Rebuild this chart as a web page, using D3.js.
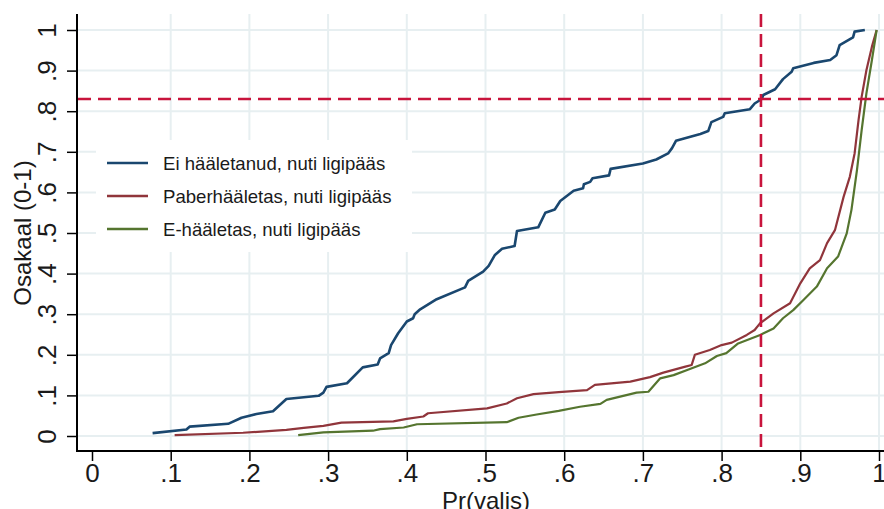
<!DOCTYPE html>
<html>
<head>
<meta charset="utf-8">
<script src="https://cdn.jsdelivr.net/npm/d3@7"></script>
<style>
  body { margin: 0; background: #fff; }
  svg { display: block; font-family: "Liberation Sans", Arial, sans-serif; }
</style>
</head>
<body>
<div class="chart"></div>
<script>
/* DATA: sorted predicted probabilities (x = Pr(valis), y = osakaal) */
var eiHaaletanud = [
  [.077,.007],[.120,.016],[.124,.023],[.173,.030],[.190,.045],[.209,.054],[.230,.061],
  [.247,.091],[.288,.099],[.294,.107],[.298,.121],[.324,.130],[.344,.169],[.363,.176],
  [.366,.191],[.377,.204],[.380,.224],[.389,.253],[.400,.282],[.408,.290],[.410,.300],
  [.417,.312],[.438,.337],[.474,.366],[.478,.382],[.497,.405],[.504,.419],[.512,.446],
  [.521,.461],[.537,.468],[.540,.505],[.567,.514],[.576,.550],[.588,.558],[.595,.579],
  [.612,.604],[.624,.610],[.625,.620],[.633,.626],[.636,.635],[.657,.642],[.659,.658],
  [.700,.671],[.717,.681],[.732,.696],[.737,.709],[.742,.727],[.773,.744],[.783,.751],
  [.787,.773],[.802,.786],[.804,.795],[.836,.805],[.842,.819],[.851,.830],[.853,.840],
  [.868,.854],[.878,.879],[.889,.897],[.891,.906],[.917,.919],[.938,.926],[.946,.938],
  [.950,.963],[.967,.982],[.969,.996],[.982,1.0]
];
var paberHaaletas = [
  [.105,.002],[.192,.008],[.247,.015],[.269,.020],[.294,.025],[.317,.033],[.383,.036],
  [.400,.042],[.421,.048],[.427,.056],[.502,.068],[.527,.080],[.540,.093],[.561,.103],
  [.593,.108],[.629,.113],[.639,.126],[.684,.134],[.709,.145],[.726,.156],[.754,.171],
  [.762,.175],[.766,.200],[.785,.212],[.800,.224],[.813,.230],[.832,.249],[.842,.261],
  [.849,.278],[.866,.302],[.887,.327],[.900,.376],[.912,.413],[.925,.433],[.934,.475],
  [.944,.507],[.955,.589],[.963,.639],[.969,.696],[.974,.778],[.978,.836],[.984,.901],
  [.991,.959],[.997,1.0]
];
var eHaaletas = [
  [.262,.002],[.294,.009],[.357,.013],[.366,.017],[.396,.021],[.413,.029],[.527,.034],
  [.542,.045],[.565,.053],[.593,.062],[.620,.072],[.646,.079],[.654,.089],[.692,.107],
  [.707,.109],[.722,.142],[.739,.150],[.758,.164],[.779,.179],[.794,.197],[.806,.204],
  [.821,.228],[.849,.249],[.866,.265],[.878,.290],[.891,.310],[.904,.335],[.921,.368],
  [.934,.413],[.948,.442],[.959,.499],[.965,.557],[.972,.655],[.978,.754],[.984,.844],
  [.991,.926],[.997,1.0]
];
var seriesNames = ["Ei hääletanud, nuti ligipääs", "Paberhääletas, nuti ligipääs", "E-hääletas, nuti ligipääs"];
var seriesColors = ["#1a476f", "#90353b", "#55752f"];
var tickValues = [0, .1, .2, .3, .4, .5, .6, .7, .8, .9, 1];
var refX = 0.85, refY = 0.83;

var W = 884, H = 509;
var svg = d3.select(".chart").append("svg")
    .attr("width", W).attr("height", H);

var x = d3.scaleLinear().domain([0, 1]).range([92, 879]);
var y = d3.scaleLinear().domain([0, 1]).range([436, 30]);
var axisLeftX = 77, axisBottomY = 451, plotTop = 14, plotRight = 884;

var fmt = function(d){ return d === 0 ? "0" : d === 1 ? "1" : String(d).replace("0.", "."); };

/*GRID*/
var grid = svg.append("g").attr("stroke", "#e7eff1").attr("stroke-width", 2);
grid.selectAll("line.h").data(tickValues).enter().append("line")
    .attr("x1", axisLeftX).attr("x2", plotRight)
    .attr("y1", function(d){ return y(d); }).attr("y2", function(d){ return y(d); });
grid.selectAll("line.v").data(tickValues.filter(function(d){ return d > 0; })).enter().append("line")
    .attr("y1", plotTop).attr("y2", axisBottomY)
    .attr("x1", function(d){ return x(d); }).attr("x2", function(d){ return x(d); });

/*LEGEND BOX (covers grid)*/
svg.append("rect").attr("x", 96).attr("y", 140).attr("width", 316).attr("height", 112).attr("fill", "#fff");

/*CURVES*/
var line = d3.line().x(function(d){ return x(d[0]); }).y(function(d){ return y(d[1]); });
[eiHaaletanud, paberHaaletas, eHaaletas].forEach(function(s, i){
  svg.append("path").datum(s)
     .attr("d", line)
     .attr("fill", "none")
     .attr("stroke", seriesColors[i])
     .attr("stroke-width", i === 0 ? 2.6 : 2.2)
     .attr("stroke-linejoin", "round");
});

/*REFERENCE LINES*/
svg.append("line")
   .attr("x1", axisLeftX + 1).attr("x2", plotRight)
   .attr("y1", y(refY)).attr("y2", y(refY))
   .attr("stroke", "#c8143c").attr("stroke-width", 2.6).attr("stroke-dasharray", "13,7");
svg.append("line")
   .attr("x1", x(refX)).attr("x2", x(refX))
   .attr("y1", plotTop).attr("y2", axisBottomY)
   .attr("stroke", "#c8143c").attr("stroke-width", 2.6).attr("stroke-dasharray", "13,7");

/*AXES*/
var xAxis = svg.append("g")
    .attr("transform", "translate(0," + axisBottomY + ")")
    .call(d3.axisBottom(x).tickValues(tickValues).tickFormat(fmt).tickSize(10).tickPadding(4));
xAxis.select(".domain").remove();
xAxis.selectAll(".tick line").attr("stroke", "#000").attr("stroke-width", 1.5);
xAxis.selectAll(".tick text")
    .attr("y", 31).attr("dy", 0)
    .attr("font-size", 26).attr("fill", "#1a1a1a");

var yAxis = svg.append("g")
    .attr("transform", "translate(" + axisLeftX + ",0)")
    .call(d3.axisLeft(y).tickValues(tickValues).tickFormat(fmt).tickSize(10));
yAxis.select(".domain").remove();
yAxis.selectAll(".tick line").attr("stroke", "#000").attr("stroke-width", 1.5);
yAxis.selectAll(".tick text")
    .attr("transform", "rotate(-90)")
    .attr("x", 0).attr("y", -21.5).attr("dy", 0)
    .attr("text-anchor", "middle")
    .attr("font-size", 26).attr("fill", "#1a1a1a");

svg.append("line").attr("x1", axisLeftX).attr("x2", axisLeftX)
   .attr("y1", plotTop).attr("y2", axisBottomY + 1)
   .attr("stroke", "#000").attr("stroke-width", 2);
svg.append("line").attr("x1", axisLeftX - 1).attr("x2", plotRight)
   .attr("y1", axisBottomY).attr("y2", axisBottomY)
   .attr("stroke", "#000").attr("stroke-width", 2);

/*AXIS TITLES*/
svg.append("text")
   .attr("x", 486).attr("y", 509)
   .attr("text-anchor", "middle")
   .attr("font-size", 24).attr("fill", "#1a1a1a")
   .text("Pr(valis)");
svg.append("text")
   .attr("transform", "translate(31,233) rotate(-90)")
   .attr("text-anchor", "middle")
   .attr("font-size", 24).attr("fill", "#1a1a1a")
   .text("Osakaal (0-1)");

/*LEGEND*/
var legend = svg.append("g");
seriesNames.forEach(function(name, i){
  var ly = 163 + i * 33;
  legend.append("line")
     .attr("x1", 107).attr("x2", 148).attr("y1", ly).attr("y2", ly)
     .attr("stroke", seriesColors[i]).attr("stroke-width", 2.6);
  legend.append("text")
     .attr("x", 163).attr("y", ly + 6.7)
     .attr("font-size", 18.6).attr("fill", "#1a1a1a")
     .text(name);
});
</script>
</body>
</html>
